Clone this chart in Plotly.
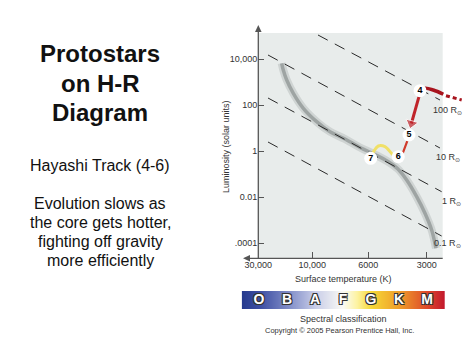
import numpy as np
import plotly.graph_objects as go

FONT = "Liberation Sans, Arial, Helvetica, sans-serif"

# ---------------- data ----------------
# schematic temperature scale positions (the axis is not logarithmic in the source figure)
TEMP_TICK_LABELS = ["30,000", "10,000", "6000", "3000"]
TEMP_TICK_POS = [0.0, 0.962, 1.96, 3.0]
LUM_TICKS = [1e4, 1e2, 1, 1e-2, 1e-4]
LUM_TICK_LABELS = ["10,000", "100", "1", "0.01", ".0001"]

# main sequence band
MS_T = [0.417, 0.445, 0.506, 0.624, 0.802, 1.040, 1.277, 1.545, 1.812, 2.079,
        2.310, 2.488, 2.644, 2.822, 2.970, 3.089, 3.148, 3.166]
MS_L = [6500, 3330, 1220, 323, 72, 18.8, 6.9, 3.33, 1.42, 0.705,
        0.349, 0.165, 0.0548, 0.0103, 0.00195, 0.000367, 0.000097, 0.0000589]

# lines of constant radius
RADIUS_LABELS = ["100 R<sub>⊙</sub>", "10 R<sub>⊙</sub>", "1 R<sub>⊙</sub>", "0.1 R<sub>⊙</sub>"]
RADIUS_T0 = [1.064, 0.173, 0.173, 0.173]
RADIUS_L0 = [110400, 14930, 201.4, 2.46]
RADIUS_T1 = [3.237, 3.237, 3.267, 3.267]
RADIUS_L1 = [164.8, 1.349, 0.01698, 0.000201]

# protostar track
INFALL_T = [2.881, 2.970, 3.118, 3.296]
INFALL_L = [419, 532, 449, 292]
INFALL_DOT_T = [3.344, 3.624]
INFALL_DOT_L = [254, 165]
COLLAPSE_T = [2.868, 2.728]
COLLAPSE_L = [254, 15.7]
HAYASHI_T = [2.685, 2.662, 2.573, 2.494]
HAYASHI_L = [4.96, 3.01, 0.794, 0.565]
HENYEY_T = [2.494, 2.405, 2.257, 2.138, 2.061, 2.003]
HENYEY_L = [0.565, 0.67, 1.54, 1.65, 1.0, 0.482]
STAGES = ["4", "5", "6", "7"]
STAGE_T = [2.881, 2.685, 2.494, 2.003]
STAGE_L = [419, 4.96, 0.565, 0.482]

SPECTRAL_CLASSES = ["O", "B", "A", "F", "G", "K", "M"]
SPECTRAL_COLORS = [[0.0, "#263a8e"], [0.085, "#3c4ea2"], [0.223, "#7d8ac6"],
                   [0.36, "#c9cde8"], [0.498, "#fbfbf6"], [0.567, "#fdf3a0"],
                   [0.636, "#f6d838"], [0.774, "#ef9d2a"], [0.911, "#de4a2a"],
                   [1.0, "#c2162e"]]

# ---------------- layout helpers (pixel -> paper) ----------------
AL, AR, AT, AB = 241, 465, 25, 309


def fx(px):
    return (px - AL) / (AR - AL)


def fy(py):
    return (AB - py) / (AB - AT)


fig = go.Figure()

# main sequence (soft gray band)
fig.add_trace(go.Scatter(x=MS_T, y=MS_L, mode="lines", line=dict(color="rgba(150,156,156,0.3)", width=8, shape="spline"),
                         hoverinfo="skip", showlegend=False))
fig.add_trace(go.Scatter(x=MS_T, y=MS_L, mode="lines", line=dict(color="rgba(125,131,131,0.6)", width=3.5, shape="spline"),
                         hoverinfo="skip", showlegend=False))

# radius lines
for i in range(len(RADIUS_LABELS)):
    fig.add_trace(go.Scatter(x=[RADIUS_T0[i], RADIUS_T1[i]], y=[RADIUS_L0[i], RADIUS_L1[i]], mode="lines",
                             line=dict(color="#2a2a2a", width=1, dash="11px,8px"),
                             hoverinfo="skip", showlegend=False))

# track
fig.add_trace(go.Scatter(x=INFALL_T, y=INFALL_L, mode="lines", line=dict(color="#a8141e", width=3.5, shape="spline"),
                         showlegend=False, hoverinfo="skip"))
fig.add_trace(go.Scatter(x=INFALL_DOT_T, y=INFALL_DOT_L, mode="lines", line=dict(color="#a8141e", width=3, dash="4px,3px"),
                         showlegend=False, hoverinfo="skip"))
fig.add_trace(go.Scatter(x=COLLAPSE_T, y=COLLAPSE_L, mode="lines+markers", line=dict(color="#c0242a", width=3),
                         marker=dict(symbol="triangle-up", size=[0, 11], color="#c0242a", angleref="previous"),
                         showlegend=False, hoverinfo="skip"))
fig.add_trace(go.Scatter(x=HAYASHI_T, y=HAYASHI_L, mode="lines", line=dict(color="#d03a2a", width=2.2),
                         showlegend=False, hoverinfo="skip"))
fig.add_trace(go.Scatter(x=HENYEY_T, y=HENYEY_L, mode="lines", line=dict(color="#f0e068", width=3, shape="spline"),
                         showlegend=False, hoverinfo="skip"))
fig.add_trace(go.Scatter(x=STAGE_T, y=STAGE_L, mode="markers+text", text=STAGES, textposition="middle center",
                         marker=dict(size=13, color="white", line=dict(width=0)),
                         textfont=dict(family=FONT, size=9, color="black", weight="bold"),
                         showlegend=False, hoverinfo="skip"))

# spectral bar
N = 400
bar_x = np.linspace(-0.618, 6.643, N)
fig.add_trace(go.Heatmap(x=bar_x, y=[0], z=[np.linspace(0, 1, N)], colorscale=SPECTRAL_COLORS, zmin=0, zmax=1,
                         showscale=False, zsmooth="best", xaxis="x2", yaxis="y2", hoverinfo="skip"))
fig.add_trace(go.Scatter(x=list(range(len(SPECTRAL_CLASSES))), y=[0] * len(SPECTRAL_CLASSES), text=SPECTRAL_CLASSES,
                         mode="text", textposition="middle center", xaxis="x2", yaxis="y2",
                         textfont=dict(family=FONT, size=14, color="white", weight="bold",
                                       shadow="1px 1px 0 #333, -1px -1px 0 #333, 1px -1px 0 #333, -1px 1px 0 #333"),
                         showlegend=False, hoverinfo="skip"))

AXC = "#555"
shapes = [
    dict(type="rect", xref="paper", yref="paper", x0=fx(258.3), x1=fx(442.7), y0=fy(258.3), y1=fy(33),
         fillcolor="#e8eceb", line=dict(width=0), layer="below"),
    # y axis line + arrowhead
    dict(type="line", xref="paper", yref="paper", x0=fx(258.3), x1=fx(258.3), y0=fy(258.3), y1=fy(31),
         line=dict(color=AXC, width=1.3)),
    dict(type="path", xref="paper", yref="paper", line=dict(width=0), fillcolor=AXC,
         path="M %f,%f L %f,%f L %f,%f Z" % (fx(258.3), fy(25), fx(255), fy(32), fx(261.6), fy(32))),
    # x axis line + arrowhead
    dict(type="line", xref="paper", yref="paper", x0=fx(442.7), x1=fx(249), y0=fy(258.3), y1=fy(258.3),
         line=dict(color=AXC, width=1.3)),
    dict(type="path", xref="paper", yref="paper", line=dict(width=0), fillcolor=AXC,
         path="M %f,%f L %f,%f L %f,%f Z" % (fx(243), fy(258.3), fx(250), fy(255), fx(250), fy(261.6))),
]

ann = []


def text(s, px, py, size, bold=False, xanchor="center", angle=0, color="#111"):
    ann.append(dict(text=("<b>%s</b>" % s) if bold else s, x=fx(px), y=fy(py), xref="paper", yref="paper",
                    showarrow=False, xanchor=xanchor, yanchor="middle", textangle=angle,
                    font=dict(family=FONT, size=size, color=color)))


text("Protostars", 100, 54, 24, bold=True)
text("on H-R", 100, 84, 24, bold=True)
text("Diagram", 100, 112, 24, bold=True)
text("Hayashi Track (4-6)", 100, 165, 16)
text("Evolution slows as", 100, 203, 16)
text("the core gets hotter,", 100, 222, 16)
text("fighting off gravity", 100, 241, 16)
text("more efficiently", 100, 260, 16)

text("Surface temperature (K)", 343, 279, 9, color="#333")
text("Luminosity (solar units)", 226, 147, 9, angle=-90, color="#333")
text("Spectral classification", 343, 319, 9, color="#333")
text("Copyright © 2005 Pearson Prentice Hall, Inc.", 339, 330, 7.5, color="#333")

R_LABEL_POS = [(431, 110), (434, 157), (440, 201), (432, 243)]
for lab, (px, py) in zip(RADIUS_LABELS, R_LABEL_POS):
    text(lab, px, py, 9, xanchor="left", color="#333")

fig.update_layout(
    width=474, height=355,
    margin=dict(l=AL, r=474 - AR, t=AT, b=355 - AB, pad=0),
    paper_bgcolor="white", plot_bgcolor="rgba(0,0,0,0)",
    shapes=shapes, annotations=ann,
    xaxis=dict(domain=[fx(258.3), 1], range=[0, 3.683], tickvals=TEMP_TICK_POS, ticktext=TEMP_TICK_LABELS,
               ticks="inside", ticklen=6, tickcolor=AXC, showgrid=False, zeroline=False, showline=False,
               tickfont=dict(family=FONT, size=9, color="#333"), anchor="y", fixedrange=True),
    yaxis=dict(domain=[fy(258.3), 1], type="log", range=[-4.665, 5.478], tickvals=LUM_TICKS,
               ticktext=LUM_TICK_LABELS, ticks="inside", ticklen=6, tickcolor=AXC, showgrid=False,
               zeroline=False, showline=False, tickfont=dict(family=FONT, size=9, color="#333"),
               anchor="x", fixedrange=True),
    xaxis2=dict(domain=[fx(241.7), fx(445)], range=[-0.618, 6.643], visible=False, anchor="y2", fixedrange=True),
    yaxis2=dict(domain=[0, fy(291)], range=[-0.5, 0.5], visible=False, anchor="x2", fixedrange=True),
    showlegend=False,
)

fig.write_html("out.html", config={"displayModeBar": False},
               post_script="document.body.style.margin='0';document.body.style.padding='0';")
